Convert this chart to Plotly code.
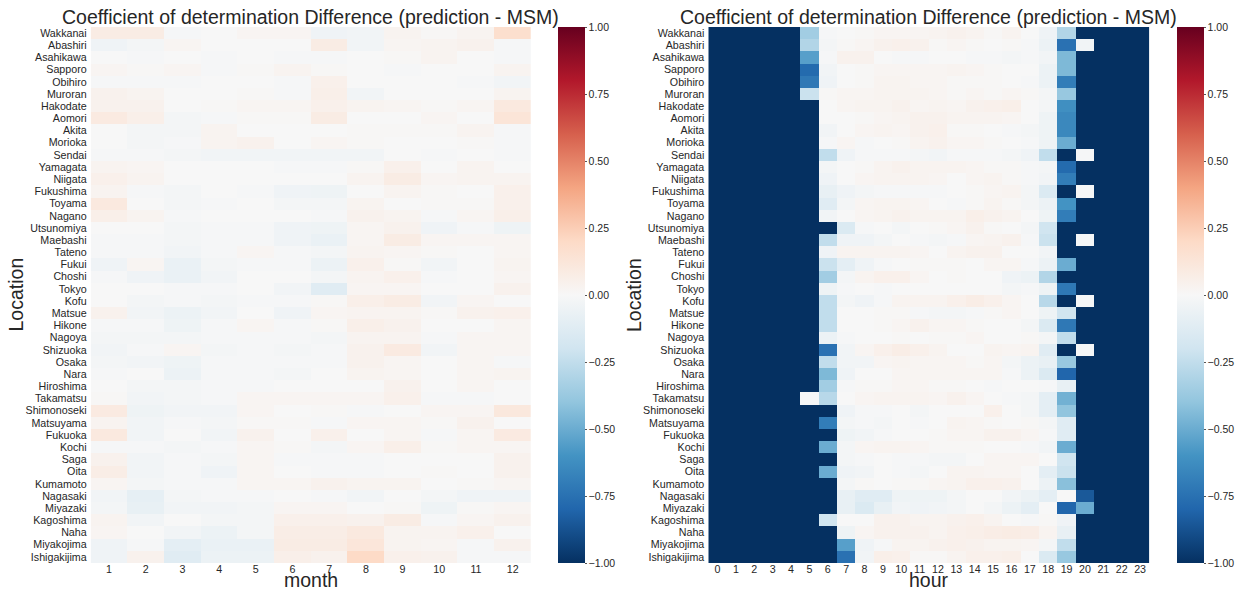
import plotly.graph_objects as go

locations = ["Wakkanai", "Abashiri", "Asahikawa", "Sapporo", "Obihiro", "Muroran", "Hakodate",
             "Aomori", "Akita", "Morioka", "Sendai", "Yamagata", "Niigata", "Fukushima", "Toyama",
             "Nagano", "Utsunomiya", "Maebashi", "Tateno", "Fukui", "Choshi", "Tokyo", "Kofu",
             "Matsue", "Hikone", "Nagoya", "Shizuoka", "Osaka", "Nara", "Hiroshima", "Takamatsu",
             "Shimonoseki", "Matsuyama", "Fukuoka", "Kochi", "Saga", "Oita", "Kumamoto",
             "Nagasaki", "Miyazaki", "Kagoshima", "Naha", "Miyakojima", "Ishigakijima"]

months = [1, 2, 3, 4, 5, 6, 7, 8, 9, 10, 11, 12]
hours = [0, 1, 2, 3, 4, 5, 6, 7, 8, 9, 10, 11, 12, 13, 14, 15, 16, 17, 18, 19, 20, 21, 22, 23]

month_diff = [
    [0.08, 0.08, -0.01, 0.0, 0.02, 0.02, -0.04, -0.03, 0.03, 0.01, 0.03, 0.17],
    [-0.04, -0.02, 0.02, 0.0, 0.0, 0.0, 0.08, -0.03, 0.02, 0.03, 0.04, -0.01],
    [0.0, -0.01, 0.0, -0.01, 0.0, -0.01, -0.01, 0.0, 0.01, 0.03, 0.0, -0.01],
    [0.02, 0.01, 0.02, -0.01, 0.01, 0.03, 0.01, 0.0, -0.01, 0.0, 0.0, 0.03],
    [-0.01, -0.01, -0.01, 0.0, 0.0, -0.01, 0.05, 0.0, 0.0, 0.0, -0.01, -0.03],
    [0.04, 0.03, 0.0, 0.0, 0.01, -0.01, 0.06, -0.03, 0.0, 0.0, 0.0, 0.03],
    [0.04, 0.04, 0.0, 0.01, 0.02, 0.02, 0.05, 0.03, 0.02, 0.01, 0.02, 0.1],
    [0.09, 0.06, -0.02, -0.01, 0.01, 0.01, 0.08, 0.0, 0.0, 0.02, 0.0, 0.13],
    [0.0, -0.02, -0.02, 0.03, 0.0, 0.0, 0.0, 0.01, 0.01, 0.01, 0.03, -0.01],
    [0.0, -0.02, -0.01, 0.03, 0.04, 0.0, 0.02, 0.01, 0.0, 0.0, 0.01, -0.01],
    [-0.01, -0.01, -0.02, -0.03, -0.03, -0.03, -0.03, -0.03, 0.0, -0.01, 0.0, -0.01],
    [0.03, 0.02, 0.0, 0.0, 0.0, -0.01, -0.01, 0.01, 0.05, 0.0, 0.03, 0.0],
    [0.05, 0.03, 0.0, 0.0, 0.0, 0.0, 0.0, 0.03, 0.08, 0.02, 0.03, 0.03],
    [0.03, -0.01, -0.02, 0.0, -0.01, -0.04, -0.05, 0.0, 0.03, 0.01, 0.0, 0.05],
    [0.1, 0.0, -0.02, -0.01, 0.0, -0.02, -0.02, 0.03, 0.0, 0.01, 0.01, 0.05],
    [0.06, 0.03, -0.01, 0.0, 0.0, 0.0, -0.01, 0.04, 0.03, -0.01, 0.02, 0.06],
    [0.0, 0.0, -0.02, -0.01, -0.01, -0.04, -0.05, 0.02, 0.04, -0.04, -0.01, -0.05],
    [-0.01, -0.01, -0.02, -0.01, -0.01, -0.04, -0.07, 0.02, 0.08, 0.02, 0.02, 0.02],
    [-0.01, -0.01, -0.03, -0.01, 0.02, -0.01, -0.02, 0.03, 0.02, 0.01, 0.0, 0.02],
    [-0.04, 0.02, -0.07, -0.02, -0.01, -0.01, -0.06, 0.05, 0.01, -0.03, 0.0, 0.03],
    [-0.01, -0.04, -0.07, -0.03, 0.0, 0.0, -0.02, 0.03, 0.05, -0.01, 0.0, 0.02],
    [0.0, 0.0, -0.01, -0.01, 0.0, -0.03, -0.12, 0.02, 0.02, 0.0, 0.0, 0.04],
    [0.0, -0.02, -0.01, -0.02, -0.01, -0.01, 0.01, 0.06, 0.08, -0.03, 0.02, 0.0],
    [0.04, -0.03, -0.06, -0.03, 0.0, -0.04, 0.02, 0.03, 0.03, 0.01, 0.04, 0.05],
    [-0.01, -0.01, -0.05, -0.01, 0.02, -0.01, 0.01, 0.06, 0.04, 0.0, 0.0, 0.02],
    [-0.02, -0.02, -0.02, -0.01, -0.01, -0.01, -0.02, 0.03, 0.03, -0.01, 0.02, 0.02],
    [-0.03, -0.01, 0.02, -0.02, -0.01, -0.02, -0.01, 0.04, 0.09, -0.03, 0.02, 0.02],
    [-0.02, -0.03, -0.05, -0.01, -0.01, -0.01, -0.01, 0.04, 0.02, 0.0, 0.02, -0.01],
    [-0.01, 0.0, -0.06, -0.01, -0.01, -0.02, 0.0, 0.03, 0.02, 0.0, 0.02, 0.03],
    [0.0, -0.02, -0.02, -0.01, -0.01, 0.0, 0.0, 0.0, 0.04, 0.0, 0.02, 0.0],
    [0.01, -0.03, -0.02, -0.01, 0.02, 0.02, 0.02, 0.02, 0.05, -0.01, -0.01, 0.0],
    [0.09, -0.05, -0.03, -0.03, 0.02, 0.0, 0.01, -0.01, 0.0, 0.02, 0.02, 0.11],
    [0.03, -0.03, -0.01, -0.02, 0.01, 0.01, -0.01, 0.02, 0.02, 0.01, 0.04, 0.0],
    [0.1, -0.03, 0.0, -0.03, 0.04, 0.0, 0.05, 0.0, 0.02, -0.01, 0.02, 0.09],
    [-0.01, -0.01, -0.02, -0.01, 0.02, 0.01, -0.02, 0.02, 0.06, 0.01, 0.02, 0.02],
    [0.04, -0.03, -0.01, -0.02, 0.02, -0.01, -0.01, -0.01, 0.0, 0.0, 0.0, 0.04],
    [0.07, -0.03, -0.01, -0.04, 0.02, 0.0, -0.01, -0.01, 0.0, 0.01, 0.0, 0.04],
    [0.02, -0.02, -0.01, -0.01, 0.02, 0.02, 0.04, 0.03, 0.03, 0.0, 0.01, 0.02],
    [-0.03, -0.09, -0.02, -0.01, -0.01, 0.0, -0.01, -0.03, 0.0, -0.02, -0.04, -0.04],
    [-0.02, -0.08, -0.03, -0.03, -0.02, 0.02, 0.02, 0.0, 0.01, -0.05, 0.01, 0.02],
    [0.03, -0.03, 0.0, -0.02, -0.02, 0.05, 0.05, 0.04, 0.08, -0.01, 0.02, 0.04],
    [0.02, 0.0, -0.03, -0.06, -0.02, 0.07, 0.07, 0.1, 0.03, 0.03, 0.05, 0.0],
    [-0.04, -0.01, -0.1, -0.07, -0.07, 0.08, 0.08, 0.12, 0.03, 0.02, -0.01, 0.04],
    [-0.04, 0.04, -0.12, -0.06, -0.06, 0.06, 0.04, 0.2, 0.05, 0.04, -0.01, -0.01],
]

hour_diff = [
    [-1, -1, -1, -1, -1, -0.35, -0.01, 0.0, 0.01, 0.02, 0.02, 0.02, 0.03, 0.04, 0.03, 0.01, 0.03, 0.0, -0.04, -0.3, -1, -1, -1, -1],
    [-1, -1, -1, -1, -1, -0.3, -0.02, 0.01, 0.02, 0.04, 0.05, 0.04, 0.01, 0.02, 0.01, 0.0, 0.01, -0.01, -0.06, -0.75, -0.03, -1, -1, -1],
    [-1, -1, -1, -1, -1, -0.55, -0.01, 0.04, 0.04, 0.0, -0.01, -0.01, 0.0, 0.0, -0.01, -0.01, -0.02, -0.01, -0.03, -0.45, -1, -1, -1, -1],
    [-1, -1, -1, -1, -1, -0.78, -0.03, 0.0, 0.01, 0.02, 0.02, 0.02, 0.02, 0.03, 0.02, 0.01, 0.0, 0.0, -0.06, -0.45, -1, -1, -1, -1],
    [-1, -1, -1, -1, -1, -0.72, -0.04, 0.0, 0.01, 0.03, 0.03, 0.02, 0.02, 0.01, 0.01, 0.01, 0.0, -0.01, -0.06, -0.7, -1, -1, -1, -1],
    [-1, -1, -1, -1, -1, -0.22, 0.01, 0.02, 0.02, 0.03, 0.03, 0.03, 0.02, 0.01, 0.02, 0.01, 0.02, 0.01, -0.02, -0.38, -1, -1, -1, -1],
    [-1, -1, -1, -1, -1, -1, 0.0, 0.02, 0.03, 0.03, 0.04, 0.02, 0.03, 0.02, 0.04, 0.05, 0.06, 0.0, -0.02, -0.62, -1, -1, -1, -1],
    [-1, -1, -1, -1, -1, -1, 0.0, 0.0, 0.01, 0.02, 0.03, 0.04, 0.04, 0.03, 0.03, 0.03, 0.02, 0.0, -0.05, -0.65, -1, -1, -1, -1],
    [-1, -1, -1, -1, -1, -1, -0.03, 0.0, 0.02, 0.03, 0.02, 0.04, 0.05, 0.01, 0.01, 0.0, -0.01, -0.02, -0.05, -0.65, -1, -1, -1, -1],
    [-1, -1, -1, -1, -1, -1, -0.01, 0.02, -0.01, 0.0, 0.01, 0.03, 0.04, 0.02, 0.02, 0.01, 0.0, -0.01, -0.05, -0.5, -1, -1, -1, -1],
    [-1, -1, -1, -1, -1, -1, -0.25, -0.04, -0.01, -0.01, -0.01, -0.02, -0.03, -0.01, -0.01, -0.01, -0.02, -0.04, -0.25, -1, -0.01, -1, -1, -1],
    [-1, -1, -1, -1, -1, -1, -0.02, 0.0, 0.01, 0.03, 0.04, 0.03, 0.03, 0.03, 0.02, 0.01, 0.01, -0.01, -0.02, -0.78, -1, -1, -1, -1],
    [-1, -1, -1, -1, -1, -1, -0.04, 0.0, 0.02, 0.03, 0.03, 0.03, 0.02, 0.0, 0.02, 0.03, 0.01, -0.01, -0.03, -0.7, -1, -1, -1, -1],
    [-1, -1, -1, -1, -1, -1, -0.08, -0.04, -0.02, -0.01, -0.01, -0.01, -0.01, 0.0, 0.01, 0.02, 0.03, -0.02, -0.15, -1, -0.01, -1, -1, -1],
    [-1, -1, -1, -1, -1, -1, -0.12, -0.02, 0.02, 0.03, 0.03, 0.02, 0.0, -0.01, 0.01, 0.03, 0.01, -0.02, -0.06, -0.6, -1, -1, -1, -1],
    [-1, -1, -1, -1, -1, -1, -0.03, 0.0, 0.02, 0.03, 0.04, 0.03, 0.03, 0.03, 0.06, 0.04, 0.03, 0.0, -0.05, -0.7, -1, -1, -1, -1],
    [-1, -1, -1, -1, -1, -1, -1, -0.15, -0.01, 0.0, -0.02, 0.0, 0.01, 0.02, 0.04, 0.01, 0.0, -0.02, -0.2, -1, -1, -1, -1, -1],
    [-1, -1, -1, -1, -1, -1, -0.25, -0.04, -0.04, -0.02, 0.0, -0.01, -0.02, -0.01, 0.02, 0.03, 0.04, -0.01, -0.22, -1, -0.01, -1, -1, -1],
    [-1, -1, -1, -1, -1, -1, -0.04, 0.03, 0.03, 0.03, 0.03, 0.02, 0.0, 0.03, 0.04, 0.04, 0.0, 0.0, -0.03, -1, -1, -1, -1, -1],
    [-1, -1, -1, -1, -1, -1, -0.22, -0.1, -0.04, -0.01, 0.0, 0.01, 0.01, 0.01, 0.0, 0.02, 0.02, -0.01, -0.06, -0.5, -1, -1, -1, -1],
    [-1, -1, -1, -1, -1, -1, -0.35, -0.02, 0.03, 0.05, 0.05, 0.02, 0.0, 0.01, 0.0, 0.0, -0.04, -0.06, -0.3, -1, -1, -1, -1, -1],
    [-1, -1, -1, -1, -1, -1, -0.05, -0.01, 0.0, -0.01, 0.0, 0.0, 0.0, 0.0, 0.0, 0.0, -0.02, -0.01, -0.05, -0.72, -1, -1, -1, -1],
    [-1, -1, -1, -1, -1, -1, -0.25, -0.02, -0.04, -0.01, 0.03, 0.03, 0.03, 0.05, 0.07, 0.05, 0.02, 0.0, -0.28, -1, -0.01, -1, -1, -1],
    [-1, -1, -1, -1, -1, -1, -0.25, 0.0, 0.0, 0.01, 0.01, -0.01, -0.02, -0.02, -0.01, 0.01, 0.02, 0.0, -0.05, -0.2, -1, -1, -1, -1],
    [-1, -1, -1, -1, -1, -1, -0.25, 0.0, 0.0, 0.01, 0.02, 0.04, 0.02, 0.02, 0.01, 0.0, 0.0, -0.02, -0.15, -0.72, -1, -1, -1, -1],
    [-1, -1, -1, -1, -1, -1, -0.06, -0.01, 0.0, 0.0, 0.01, 0.0, 0.01, 0.01, 0.02, 0.0, 0.0, 0.01, -0.02, -0.25, -1, -1, -1, -1],
    [-1, -1, -1, -1, -1, -1, -0.75, -0.03, 0.02, 0.05, 0.07, 0.05, 0.03, 0.0, 0.0, 0.03, 0.02, 0.03, -0.12, -1, -0.01, -1, -1, -1],
    [-1, -1, -1, -1, -1, -1, -0.25, -0.03, -0.03, 0.02, 0.03, 0.02, 0.02, 0.02, 0.01, 0.02, -0.02, -0.06, -0.08, -0.38, -1, -1, -1, -1],
    [-1, -1, -1, -1, -1, -1, -0.45, -0.04, 0.0, 0.0, 0.02, 0.02, 0.02, 0.02, 0.02, 0.02, -0.01, -0.06, -0.15, -0.8, -1, -1, -1, -1],
    [-1, -1, -1, -1, -1, -1, -0.35, -0.01, 0.01, 0.01, 0.02, 0.02, 0.01, 0.01, 0.0, -0.01, 0.0, 0.0, -0.01, -0.08, -1, -1, -1, -1],
    [-1, -1, -1, -1, -1, -0.01, -0.28, 0.0, 0.02, 0.03, 0.03, 0.03, 0.02, 0.04, 0.02, 0.0, -0.01, -0.02, -0.1, -0.48, -1, -1, -1, -1],
    [-1, -1, -1, -1, -1, -1, -1, -0.04, -0.01, -0.01, 0.0, -0.02, 0.0, 0.0, 0.0, 0.05, 0.0, -0.02, -0.1, -0.4, -1, -1, -1, -1],
    [-1, -1, -1, -1, -1, -1, -0.7, -0.02, -0.01, -0.02, 0.0, -0.01, 0.0, 0.03, 0.02, 0.01, 0.0, 0.01, -0.02, -0.12, -1, -1, -1, -1],
    [-1, -1, -1, -1, -1, -1, -1, -0.05, -0.03, -0.01, 0.0, 0.0, 0.01, 0.02, 0.02, 0.04, 0.04, 0.02, -0.01, -0.12, -1, -1, -1, -1],
    [-1, -1, -1, -1, -1, -1, -0.5, -0.02, 0.02, 0.03, 0.03, 0.02, 0.01, 0.01, 0.01, 0.0, 0.0, -0.01, -0.03, -0.5, -1, -1, -1, -1],
    [-1, -1, -1, -1, -1, -1, -1, -0.02, -0.01, 0.0, -0.01, -0.01, -0.02, -0.02, 0.0, 0.02, 0.02, 0.02, 0.0, -0.2, -1, -1, -1, -1],
    [-1, -1, -1, -1, -1, -1, -0.5, -0.04, -0.03, 0.0, -0.01, -0.02, 0.0, 0.03, 0.03, 0.02, 0.02, 0.0, -0.1, -0.22, -1, -1, -1, -1],
    [-1, -1, -1, -1, -1, -1, -1, -0.02, 0.01, 0.0, 0.01, 0.01, 0.02, 0.03, 0.05, 0.05, 0.04, 0.0, -0.06, -0.42, -1, -1, -1, -1],
    [-1, -1, -1, -1, -1, -1, -1, -0.08, -0.12, -0.12, -0.05, -0.05, -0.05, -0.02, 0.0, 0.0, -0.03, -0.06, -0.1, 0.0, -0.85, -1, -1, -1],
    [-1, -1, -1, -1, -1, -1, -1, -0.08, -0.15, -0.08, -0.03, -0.04, -0.03, -0.02, 0.0, -0.02, -0.06, -0.1, 0.0, -0.8, -0.5, -1, -1, -1],
    [-1, -1, -1, -1, -1, -1, -0.2, 0.0, 0.0, 0.04, 0.04, 0.03, 0.03, 0.04, 0.05, 0.03, 0.0, -0.01, 0.01, -0.04, -1, -1, -1, -1],
    [-1, -1, -1, -1, -1, -1, -1, -0.05, 0.02, 0.04, 0.04, 0.04, 0.03, 0.05, 0.06, 0.07, 0.08, 0.07, 0.03, -0.08, -1, -1, -1, -1],
    [-1, -1, -1, -1, -1, -1, -1, -0.55, -0.04, -0.01, 0.03, 0.03, 0.04, 0.05, 0.04, 0.03, 0.03, 0.02, -0.02, -0.25, -1, -1, -1, -1],
    [-1, -1, -1, -1, -1, -1, -1, -0.75, -0.03, 0.06, 0.05, 0.01, 0.01, 0.03, 0.05, 0.05, 0.06, 0.0, -0.15, -0.38, -1, -1, -1, -1],
]

title_text = "Coefficient of determination Difference (prediction - MSM)"
cbar_vals = [-1.0, -0.75, -0.5, -0.25, 0.0, 0.25, 0.5, 0.75, 1.0]
cbar_text = ["\u22121.00", "\u22120.75", "\u22120.50", "\u22120.25", "0.00", "0.25", "0.50", "0.75", "1.00"]

rdbu_r = [[0.0, "#053061"], [0.1, "#2166ac"], [0.2, "#4393c3"], [0.3, "#92c5de"],
          [0.4, "#d1e5f0"], [0.5, "#f7f7f7"], [0.6, "#fddbc7"], [0.7, "#f4a582"],
          [0.8, "#d6604d"], [0.9, "#b2182b"], [1.0, "#67001f"]]

W, H = 1241, 593
FONT = "Liberation Sans, Arial, Helvetica, sans-serif"
TXT = "#262626"

top_px, bot_px = 27, 563
yd = [1 - bot_px / H, 1 - top_px / H]
x1 = [90.7 / W, 531.0 / W]
x2 = [708.3 / W, 1149.3 / W]


def cbar(xpx):
    return dict(x=xpx / W, xanchor="left", xpad=0, ypad=0,
                y=yd[1], yanchor="top", len=bot_px - top_px, lenmode="pixels",
                thickness=27, thicknessmode="pixels", outlinewidth=0,
                tickmode="array", tickvals=cbar_vals, ticktext=cbar_text,
                ticks="outside", ticklen=2, tickwidth=1, tickcolor="#555555",
                tickfont=dict(size=10.5, color=TXT, family=FONT))


fig = go.Figure()
fig.add_trace(go.Heatmap(z=month_diff, x=months, y=locations, colorscale=rdbu_r,
                         zmin=-1, zmax=1, xaxis="x", yaxis="y", colorbar=cbar(558.3)))
fig.add_trace(go.Heatmap(z=hour_diff, x=hours, y=locations, colorscale=rdbu_r,
                         zmin=-1, zmax=1, xaxis="x2", yaxis="y2", colorbar=cbar(1176.7)))

axis_common = dict(showgrid=False, zeroline=False, showline=False, ticks="",
                   tickfont=dict(size=10.7, color=TXT, family=FONT))

fig.update_layout(
    width=W, height=H, margin=dict(l=0, r=0, t=0, b=0),
    paper_bgcolor="white", plot_bgcolor="white",
    font=dict(family=FONT, color=TXT),
    xaxis=dict(domain=x1, anchor="y", tickmode="array", tickvals=months,
               range=[0.5, 12.5], ticklabelstandoff=-2, **axis_common),
    yaxis=dict(domain=yd, anchor="x", autorange="reversed", ticklabelstandoff=3,
               tickmode="array", tickvals=locations, **axis_common),
    xaxis2=dict(domain=x2, anchor="y2", tickmode="array", tickvals=hours,
                range=[-0.5, 23.5], ticklabelstandoff=-2, **axis_common),
    yaxis2=dict(domain=yd, anchor="x2", autorange="reversed", ticklabelstandoff=3,
                tickmode="array", tickvals=locations, **axis_common),
)

title_font = dict(size=19.5, color=TXT, family=FONT)
ann = []
for xc, xl in [((x1[0] + x1[1]) / 2, "month"), ((x2[0] + x2[1]) / 2, "hour")]:
    ann.append(dict(x=xc, y=1 - 17 / H, xref="paper", yref="paper", text=title_text,
                    showarrow=False, xanchor="center", yanchor="middle", font=title_font))
    ann.append(dict(x=xc, y=0, xref="paper", yref="paper", text=xl,
                    showarrow=False, xanchor="center", yanchor="bottom", font=title_font))
for xp in [15.5, 634]:
    ann.append(dict(x=xp / W, y=1 - 295 / H, xref="paper", yref="paper", text="Location",
                    showarrow=False, xanchor="center", yanchor="middle", textangle=-90,
                    font=title_font))
fig.update_layout(annotations=ann)

fig.write_html("out.html")
